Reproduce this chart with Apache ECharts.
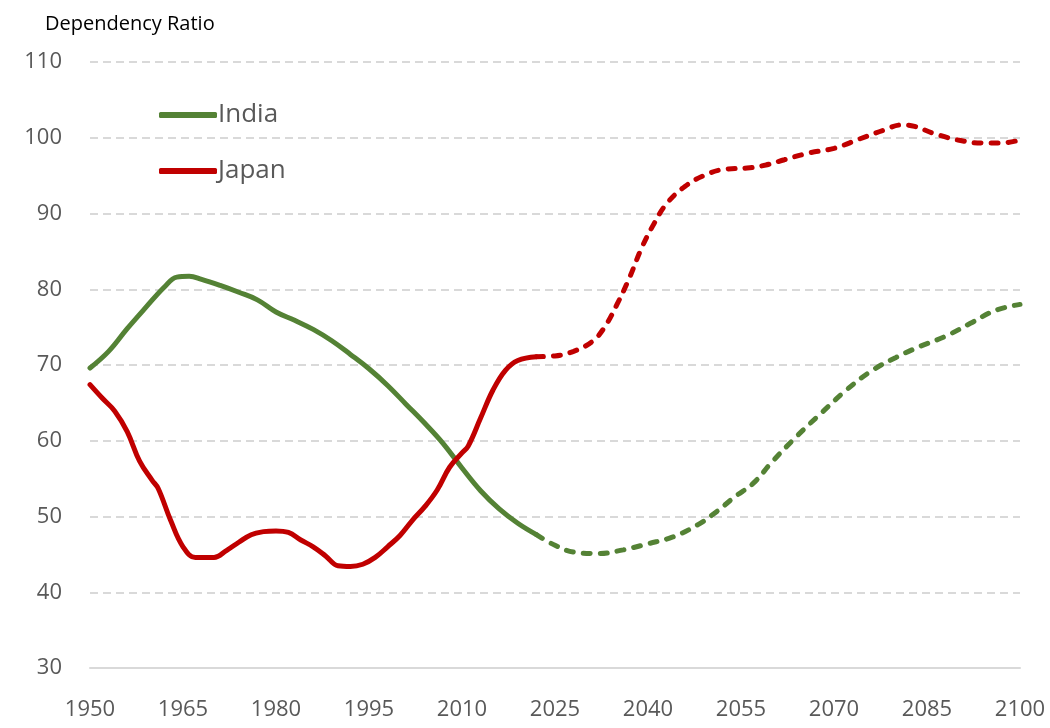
<!DOCTYPE html>
<html>
<head>
<meta charset="utf-8">
<script src="https://cdn.jsdelivr.net/npm/echarts@6/dist/echarts.min.js"></script>
<style>
  html, body { margin: 0; padding: 0; background: #fff; }
  #chart { width: 1050px; height: 728px; }
</style>
</head>
<body>
<div id="chart"></div>
<script>
// solid = history, dashed = projection
var indiaHistYears = [1950, 1953, 1956, 1959, 1962, 1964, 1966, 1968, 1971, 1974, 1977, 1980, 1983, 1986, 1989, 1992, 1995, 1998, 2001, 2004, 2007, 2010, 2013, 2016, 2019, 2022]
var indiaHistVals = [69.6, 71.8, 74.8, 77.6, 80.3, 81.6, 81.7, 81.3, 80.5, 79.6, 78.6, 77.0, 75.9, 74.7, 73.2, 71.4, 69.5, 67.3, 64.8, 62.3, 59.6, 56.4, 53.4, 51.0, 49.1, 47.6]
var indiaProjYears = [2022, 2025, 2028, 2032, 2036, 2040, 2044, 2048, 2051, 2054, 2057, 2060, 2064, 2068, 2072, 2076, 2080, 2084, 2088, 2092, 2096, 2100]
var indiaProjVals = [47.6, 46.2, 45.3, 45.1, 45.6, 46.4, 47.3, 48.9, 50.6, 52.6, 54.4, 57.2, 60.6, 63.7, 66.7, 69.2, 71.0, 72.5, 73.8, 75.5, 77.2, 78.0]

var japanHistYears = [1950, 1952, 1954, 1956, 1958, 1960, 1961, 1963, 1965, 1967, 1970, 1972, 1974, 1976, 1978, 1980, 1982, 1984, 1986, 1988, 1990, 1992, 1994, 1996, 1998, 2000, 2002, 2004, 2006, 2008, 2010, 2011, 2013, 2015, 2017, 2019, 2022]
var japanHistVals = [67.4, 65.6, 63.9, 61.2, 57.3, 54.8, 53.7, 49.5, 46.0, 44.6, 44.6, 45.5, 46.6, 47.6, 48.0, 48.1, 47.9, 46.9, 46.0, 44.8, 43.5, 43.4, 43.7, 44.6, 46.0, 47.5, 49.5, 51.3, 53.5, 56.5, 58.4, 59.3, 63.0, 66.7, 69.3, 70.6, 71.1]
var japanProjYears = [2022, 2025, 2028, 2031, 2033, 2035, 2037, 2039, 2041, 2043, 2046, 2049, 2052, 2056, 2059, 2062, 2066, 2070, 2074, 2078, 2081, 2083, 2086, 2090, 2094, 2097, 2100]
var japanProjVals = [71.1, 71.2, 71.8, 73.1, 75.0, 78.0, 81.5, 85.5, 88.7, 91.3, 93.6, 95.0, 95.8, 96.0, 96.4, 97.1, 98.0, 98.6, 99.8, 101.0, 101.7, 101.5, 100.6, 99.7, 99.3, 99.3, 99.7]

var GREEN = '#548235'
var RED = '#C00000'

function pairs(xs, ys) {
  return xs.map(function (x, i) { return [x, ys[i]] })
}

var myChart = echarts.init(document.getElementById('chart'))
var option = {
  backgroundColor: '#fff',
  animation: false,
  title: {
    text: 'Dependency Ratio',
    left: 40,
    top: 9,
    textStyle: { fontFamily: 'Open Sans', fontSize: 20, fontWeight: 'normal', color: '#000' }
  },
  legend: {
    data: ['India', 'Japan'],
    orient: 'vertical',
    left: 154,
    top: 95,
    itemGap: 26,
    itemWidth: 58,
    itemHeight: 6,
    icon: 'roundRect',
    textStyle: { fontFamily: 'Open Sans', fontSize: 26, color: '#595959', lineHeight: 30, padding: [0, 0, 0, -4] }
  },
  grid: { left: 90, right: 30, top: 62, bottom: 60 },
  xAxis: {
    type: 'value',
    min: 1950,
    max: 2100,
    interval: 15,
    axisLine: { show: true, lineStyle: { color: '#d9d9d9', width: 2 } },
    axisTick: { show: false },
    splitLine: { show: false },
    axisLabel: {
      margin: 31, color: '#595959', fontFamily: 'Open Sans', fontSize: 22,
      showMinLabel: true, showMaxLabel: true,
      formatter: function (v) { return String(v) }
    }
  },
  yAxis: {
    type: 'value',
    min: 30,
    max: 110,
    interval: 10,
    axisLine: { show: false },
    axisTick: { show: false },
    splitLine: { lineStyle: { color: '#d9d9d9', width: 2, type: [8, 5] } },
    axisLabel: { margin: 28, color: '#595959', fontFamily: 'Open Sans', fontSize: 22, padding: [4, 0, 0, 0] }
  },
  series: [
    {
      name: 'India', type: 'line', smooth: 0.4, showSymbol: false, symbol: 'none',
      data: pairs(indiaHistYears, indiaHistVals),
      itemStyle: { color: GREEN },
      lineStyle: { color: GREEN, width: 5, cap: 'round' }
    },
    {
      name: 'Japan', type: 'line', smooth: 0.4, showSymbol: false, symbol: 'none',
      data: pairs(japanHistYears, japanHistVals),
      itemStyle: { color: RED },
      lineStyle: { color: RED, width: 5, cap: 'round' }
    },
    {
      name: 'India projection', type: 'line', smooth: 0.4, showSymbol: false, symbol: 'none',
      data: pairs(indiaProjYears, indiaProjVals),
      itemStyle: { color: GREEN },
      lineStyle: { color: GREEN, width: 5, type: [7, 10], cap: 'round' }
    },
    {
      name: 'Japan projection', type: 'line', smooth: 0.4, showSymbol: false, symbol: 'none',
      data: pairs(japanProjYears, japanProjVals),
      itemStyle: { color: RED },
      lineStyle: { color: RED, width: 5, type: [7, 10], cap: 'round' }
    }
  ]
}
option && myChart.setOption(option)
</script>
</body>
</html>
